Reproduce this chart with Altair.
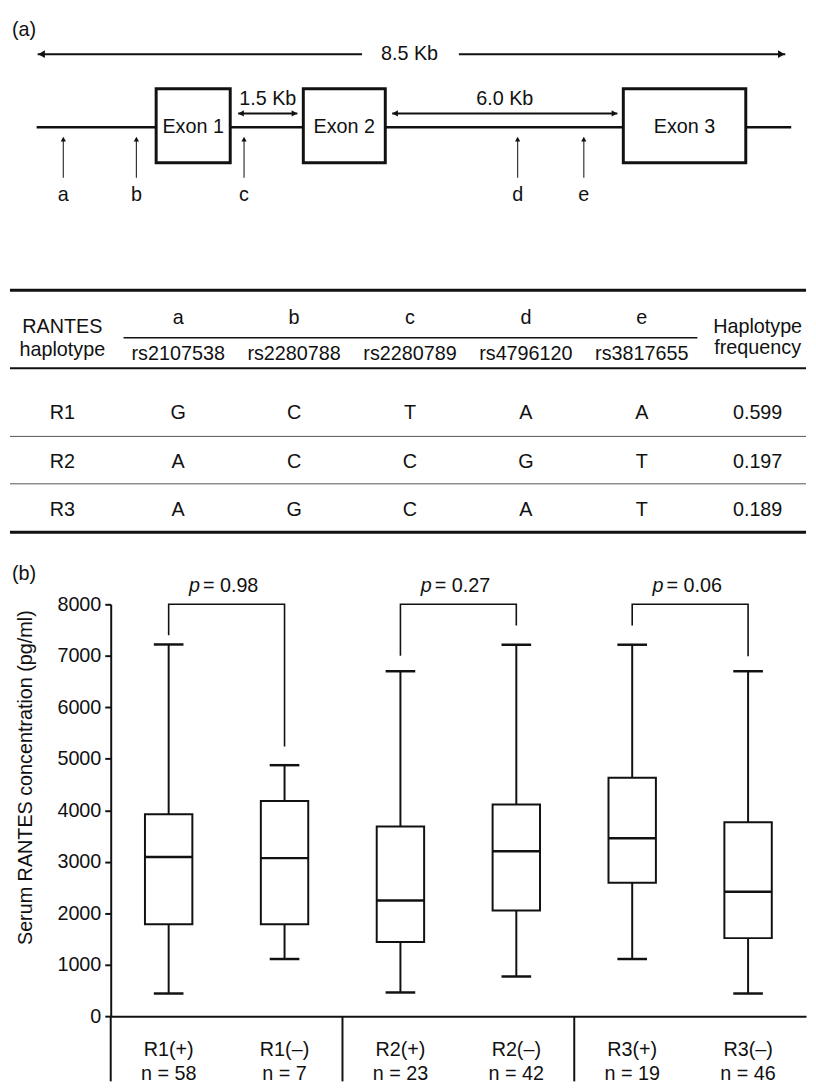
import altair as alt
import pandas as pd

FONT = "Liberation Sans"
FS = 20
INK = "#111111"
W = 808
HA, HB, HC = 262, 278, 540

# ---------------- (a) gene structure (schematic units) ----------------
exon_names = ["Exon 1", "Exon 2", "Exon 3"]
exon_start = [150, 299, 623]
exon_end = [225, 382, 747]
intron_labels = ["1.5 Kb", "6.0 Kb"]
intron_start = [233, 389]
intron_end = [293, 617]
span_label = "8.5 Kb"
span_start, span_end = 30, 787
backbone_start, backbone_end = 29, 793
snp_letters = ["a", "b", "c", "d", "e"]
snp_pos = [56, 130, 239, 516, 583]

# ---------------- haplotype table ----------------
snp_ids = ["rs2107538", "rs2280788", "rs2280789", "rs4796120", "rs3817655"]
haplotypes = ["R1", "R2", "R3"]
alleles = [["G", "C", "T", "A", "A"],
           ["A", "C", "C", "G", "T"],
           ["A", "G", "C", "A", "T"]]
hap_freq = ["0.599", "0.197", "0.189"]

# ---------------- (b) box plot ----------------
groups = ["R1(+)", "R1(–)", "R2(+)", "R2(–)", "R3(+)", "R3(–)"]
n_sizes = [58, 7, 23, 42, 19, 46]
w_low = [440, 1110, 460, 770, 1110, 440]
q1 = [1785, 1785, 1440, 2054, 2591, 1516]
med = [3090, 3070, 2245, 3205, 3455, 2418]
q3 = [3920, 4180, 3685, 4110, 4630, 3765]
w_high = [7220, 4875, 6700, 7215, 7215, 6700]

pair_left = ["R1(+)", "R2(+)", "R3(+)"]
pair_right = ["R1(–)", "R2(–)", "R3(–)"]
p_values = ["0.98", "0.27", "0.06"]
leg_left = [7400, 7000, 7590]
leg_right = [5240, 7590, 6990]
bracket_top = 8000
y_ticks = [0, 1000, 2000, 3000, 4000, 5000, 6000, 7000, 8000]


def one():
    return pd.DataFrame({"k": [0]})


def txt(**kw):
    base = dict(font=FONT, fontSize=FS, color=INK)
    base.update(kw)
    return base


# ===================== panel (a) =====================
xa = alt.Scale(domain=[0, W], range=[0, W])
XA = lambda f: alt.X(f, scale=xa, axis=None)

backbone = alt.Chart(pd.DataFrame({"s": [backbone_start], "e": [backbone_end]})).mark_rule(
    strokeWidth=2.5, color=INK).encode(x=XA("s:Q"), x2="e:Q", y=alt.value(114))

mid = (span_start + span_end) / 2
span_df = pd.DataFrame({"s": [span_start, mid + 48], "e": [mid - 50, span_end]})
span_lines = alt.Chart(span_df).mark_rule(strokeWidth=2, color=INK).encode(
    x=XA("s:Q"), x2="e:Q", y=alt.value(40))
span_heads = alt.Chart(pd.DataFrame({"x": [span_start + 4, span_end - 4],
                                     "sh": ["triangle-left", "triangle-right"]})).mark_point(
    filled=True, size=60, color=INK, opacity=1).encode(
    x=XA("x:Q"), y=alt.value(40), shape=alt.Shape("sh:N", scale=None))
span_text = alt.Chart(pd.DataFrame({"x": [mid - 2], "t": [span_label]})).mark_text(**txt()).encode(
    x=XA("x:Q"), y=alt.value(40), text="t:N")

exon_df = pd.DataFrame({"name": exon_names, "s": exon_start, "e": exon_end})
exons = alt.Chart(exon_df).mark_rect(fill="white", stroke=INK, strokeWidth=3).encode(
    x=XA("s:Q"), x2="e:Q", y=alt.value(75), y2=alt.value(150))
exon_text = alt.Chart(exon_df).transform_calculate(m="(datum.s + datum.e) / 2").mark_text(
    **txt()).encode(x=XA("m:Q"), y=alt.value(114), text="name:N")

intr_df = pd.DataFrame({"lab": intron_labels, "s": intron_start, "e": intron_end})
intr_lines = alt.Chart(intr_df).mark_rule(strokeWidth=2, color=INK).encode(
    x=XA("s:Q"), x2="e:Q", y=alt.value(100))
intr_heads_l = alt.Chart(intr_df).transform_calculate(p="datum.s + 3").mark_point(
    filled=True, size=40, color=INK, opacity=1, shape="triangle-left").encode(
    x=XA("p:Q"), y=alt.value(100))
intr_heads_r = alt.Chart(intr_df).transform_calculate(p="datum.e - 3").mark_point(
    filled=True, size=40, color=INK, opacity=1, shape="triangle-right").encode(
    x=XA("p:Q"), y=alt.value(100))
intr_text = alt.Chart(intr_df).transform_calculate(m="(datum.s + datum.e) / 2").mark_text(
    **txt()).encode(x=XA("m:Q"), y=alt.value(85), text="lab:N")

snp_df = pd.DataFrame({"lab": snp_letters, "x": snp_pos})
snp_lines = alt.Chart(snp_df).mark_rule(strokeWidth=1.2, color="#333333").encode(
    x=XA("x:Q"), y=alt.value(126), y2=alt.value(165))
snp_heads = alt.Chart(snp_df).mark_point(filled=True, size=28, color=INK, opacity=1,
                                         shape="triangle-up").encode(
    x=XA("x:Q"), y=alt.value(126))
snp_text = alt.Chart(snp_df).mark_text(**txt()).encode(
    x=XA("x:Q"), y=alt.value(183), text="lab:N")

tag_a = alt.Chart(pd.DataFrame({"t": ["(a)"]})).mark_text(**txt(align="left")).encode(
    x=alt.value(4), y=alt.value(16), text="t:N")

panel_a = alt.layer(backbone, span_lines, span_heads, span_text, exons, exon_text,
                    intr_lines, intr_heads_l, intr_heads_r, intr_text,
                    snp_lines, snp_heads, snp_text, tag_a).properties(width=W, height=HA)

# ===================== table =====================
cols = ["hap"] + snp_letters + ["freq"]
xb = alt.Scale(type="point", domain=cols, range=[55, 759], padding=0)
XB = alt.X("col:N", scale=xb, axis=None)


def label_row(cs, texts, ypix):
    return alt.Chart(pd.DataFrame({"col": cs, "t": texts})).mark_text(**txt()).encode(
        x=XB, y=alt.value(ypix), text="t:N")


def hline(ypix, w, x1=2, x2=W, color=INK):
    return alt.Chart(one()).mark_rule(strokeWidth=w, color=color).encode(
        x=alt.value(x1), x2=alt.value(x2), y=alt.value(ypix))


rows = []
for h, al, f in zip(haplotypes, alleles, hap_freq):
    rows.append({"hap": h, "col": "hap", "t": h})
    for c, a in zip(snp_letters, al):
        rows.append({"hap": h, "col": c, "t": a})
    rows.append({"hap": h, "col": "freq", "t": f})
cells = alt.Chart(pd.DataFrame(rows)).mark_text(**txt()).encode(
    x=XB,
    y=alt.Y("hap:N", scale=alt.Scale(type="point", domain=haplotypes, range=[141, 240], padding=0),
            axis=None),
    text="t:N")

panel_b = alt.layer(
    hline(17, 3), hline(65, 1.5, 117, 698), hline(96, 2),
    hline(165, 1, color="#555555"), hline(213, 1, color="#555555"), hline(262, 3),
    label_row(snp_letters, snp_letters, 45),
    label_row(snp_letters, snp_ids, 82),
    label_row(["hap", "freq"], ["RANTES", "Haplotype"], 54),
    label_row(["hap"], ["haplotype"], 78),
    label_row(["freq"], ["frequency"], 76),
    cells,
).properties(width=W, height=HB)

# ===================== panel (b) box plot =====================
cats = [f"{g}|n = {n}" for g, n in zip(groups, n_sizes)]
cat_of = dict(zip(groups, cats))

xs = alt.Scale(type="band", domain=cats, range=[104, W], paddingInner=0, paddingOuter=0)
ys = alt.Scale(domain=[0, 8000], range=[474, 57], nice=False, zero=True)

x_axis = alt.Axis(orient="bottom", offset=-66, domain=True, domainColor=INK, domainWidth=2,
                  ticks=False, labelExpr="split(datum.label, '|')", labelFont=FONT,
                  labelFontSize=FS, labelColor=INK, labelPadding=24, labelLineHeight=24,
                  labelAngle=0, labelOverlap=False, title=None, grid=False)
y_axis = alt.Axis(orient="left", offset=-104, values=y_ticks, format="d", tickSize=6,
                  tickWidth=2, tickColor=INK, domainWidth=2, domainColor=INK,
                  labelFont=FONT, labelFontSize=FS, labelColor=INK, labelPadding=4,
                  labelFlush=False, labelOverlap=False, grid=False,
                  title="Serum RANTES concentration (pg/ml)", titleFont=FONT,
                  titleFontSize=20, titleFontWeight="normal", titleColor=INK,
                  titleAngle=270, titleAlign="center", titleBaseline="bottom",
                  titleX=-76, titleY=232)

XC = lambda **kw: alt.X("cat:N", scale=xs, axis=x_axis, **kw)
YC = lambda f: alt.Y(f, scale=ys, axis=y_axis)

box_df = pd.DataFrame({"cat": cats, "lo": w_low, "q1": q1, "med": med, "q3": q3, "hi": w_high})
whisk_lo = alt.Chart(box_df).mark_rule(strokeWidth=2, color=INK).encode(
    x=XC(), y=YC("lo:Q"), y2="q1:Q")
whisk_hi = alt.Chart(box_df).mark_rule(strokeWidth=2, color=INK).encode(
    x=XC(), y=YC("q3:Q"), y2="hi:Q")
boxes = alt.Chart(box_df).mark_bar(size=48, fill="white", stroke=INK, strokeWidth=2).encode(
    x=XC(), y=YC("q1:Q"), y2="q3:Q")
medians = alt.Chart(box_df).mark_tick(size=48, thickness=2.5, color=INK, opacity=1).encode(
    x=XC(), y=YC("med:Q"))
caps_lo = alt.Chart(box_df).mark_tick(size=30, thickness=2.5, color=INK, opacity=1).encode(
    x=XC(), y=YC("lo:Q"))
caps_hi = alt.Chart(box_df).mark_tick(size=30, thickness=2.5, color=INK, opacity=1).encode(
    x=XC(), y=YC("hi:Q"))

br_rows = []
for i, (l, r, a, b) in enumerate(zip(pair_left, pair_right, leg_left, leg_right)):
    br_rows += [
        {"b": i, "o": 0, "cat": cat_of[l], "v": a},
        {"b": i, "o": 1, "cat": cat_of[l], "v": bracket_top},
        {"b": i, "o": 2, "cat": cat_of[r], "v": bracket_top},
        {"b": i, "o": 3, "cat": cat_of[r], "v": b},
    ]
brackets = alt.Chart(pd.DataFrame(br_rows)).mark_line(strokeWidth=1.6, color=INK).encode(
    x=XC(), y=YC("v:Q"), detail="b:N", order="o:Q")

p_df = pd.DataFrame({"cat": [cat_of[g] for g in pair_left], "p": p_values})
p_italic = alt.Chart(p_df).mark_text(**txt(align="left", dx=-38, fontStyle="italic")).encode(
    x=XC(bandPosition=1), y=alt.value(39), text=alt.value("p"))
p_rest = alt.Chart(p_df).transform_calculate(t="'= ' + datum.p").mark_text(
    **txt(align="left", dx=-24)).encode(x=XC(bandPosition=1), y=alt.value(39), text="t:N")

div_df = pd.DataFrame({"cat": [cat_of[g] for g in pair_left]})
dividers = alt.Chart(div_df).mark_rule(strokeWidth=2, color=INK).encode(
    x=XC(bandPosition=0), y=alt.value(474), y2=alt.value(HC))

tag_b = alt.Chart(pd.DataFrame({"t": ["(b)"]})).mark_text(**txt(align="left")).encode(
    x=alt.value(4), y=alt.value(26), text="t:N")

panel_c = alt.layer(whisk_lo, whisk_hi, boxes, medians, caps_lo, caps_hi, brackets,
                    p_italic, p_rest, dividers, tag_b).properties(width=W, height=HC)

chart = alt.vconcat(panel_a, panel_b, panel_c, spacing=0).resolve_scale(
    x="independent", y="independent").properties(padding=0).configure_view(stroke=None)

chart.save("out.html", embed_options={"renderer": "svg", "actions": False})
